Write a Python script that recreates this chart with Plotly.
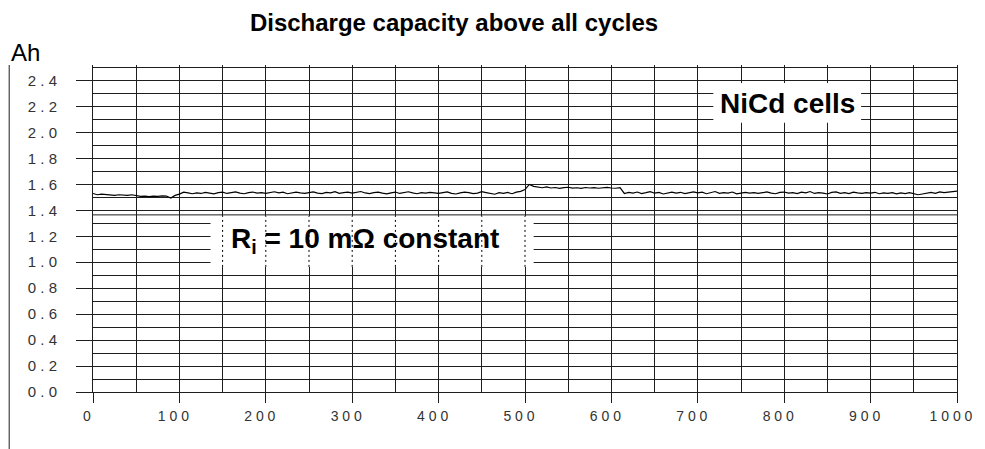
import plotly.graph_objects as go

# ---- data ----
cycles = list(range(0, 1001, 5))
capacity = [
    # 0-95
    1.530, 1.520, 1.525, 1.520, 1.520, 1.515, 1.520, 1.518, 1.515, 1.520,
    1.512, 1.508, 1.510, 1.505, 1.510, 1.508, 1.512, 1.510, 1.495, 1.515,
    # 100-195
    1.525, 1.540, 1.535, 1.528, 1.535, 1.530, 1.538, 1.532, 1.527, 1.536,
    1.540, 1.530, 1.535, 1.542, 1.533, 1.528, 1.537, 1.541, 1.532, 1.536,
    # 200-295
    1.530, 1.538, 1.543, 1.535, 1.540, 1.528, 1.536, 1.541, 1.534, 1.530,
    1.537, 1.542, 1.533, 1.529, 1.538, 1.535, 1.544, 1.531, 1.536, 1.540,
    # 300-395
    1.532, 1.538, 1.545, 1.534, 1.529, 1.536, 1.540, 1.533, 1.527, 1.535,
    1.541, 1.530, 1.536, 1.543, 1.534, 1.528, 1.537, 1.532, 1.539, 1.535,
    # 400-495
    1.530, 1.537, 1.542, 1.531, 1.526, 1.535, 1.540, 1.536, 1.529, 1.533,
    1.544, 1.537, 1.530, 1.524, 1.536, 1.531, 1.538, 1.528, 1.540, 1.546,
    # 500-595
    1.560, 1.600, 1.585, 1.578, 1.574, 1.580, 1.572, 1.576, 1.570, 1.575,
    1.578, 1.571, 1.574, 1.569, 1.576, 1.572, 1.575, 1.570, 1.573, 1.577,
    # 600-695
    1.572, 1.570, 1.575, 1.530, 1.538, 1.533, 1.541, 1.529, 1.536, 1.544,
    1.532, 1.538, 1.526, 1.535, 1.540, 1.533, 1.539, 1.529, 1.537, 1.542,
    # 700-795
    1.534, 1.540, 1.528, 1.536, 1.545, 1.531, 1.537, 1.533, 1.541, 1.527,
    1.535, 1.539, 1.532, 1.537, 1.530, 1.536, 1.542, 1.533, 1.528, 1.538,
    # 800-895
    1.541, 1.532, 1.536, 1.529, 1.540, 1.535, 1.545, 1.530, 1.537, 1.533,
    1.526, 1.538, 1.542, 1.531, 1.536, 1.529, 1.540, 1.534, 1.530, 1.537,
    # 900-995
    1.533, 1.539, 1.528, 1.535, 1.531, 1.537, 1.527, 1.534, 1.529, 1.536,
    1.530, 1.520, 1.526, 1.533, 1.539, 1.531, 1.542, 1.536, 1.540, 1.545,
    # 1000
    1.548,
]
x_ticks = list(range(0, 1001, 100))
y_ticks = [round(0.2 * i, 1) for i in range(13)]
x_tick_labels = [" ".join(str(v)) for v in x_ticks]
y_tick_labels = [" ".join(f"{v:.1f}") for v in y_ticks]

FONT = "Liberation Sans, Arial, sans-serif"
GRID = "#1e1e1e"

fig = go.Figure()
fig.add_trace(go.Scatter(x=cycles, y=capacity, mode="lines",
                         line=dict(color="black", width=1.2), showlegend=False,
                         hoverinfo="skip"))

fig.update_layout(
    width=985, height=449,
    margin=dict(l=93, r=26, t=65, b=57),
    paper_bgcolor="white", plot_bgcolor="white",
    font=dict(family=FONT, color="black"),
    title=dict(text="<b>Discharge capacity above all cycles</b>",
               x=454 / 985, xanchor="center", xref="container",
               y=1 - 23 / 449, yanchor="middle", yref="container",
               font=dict(size=24, family=FONT, color="black")),
    xaxis=dict(range=[0, 1000], tickvals=x_ticks, ticktext=x_tick_labels,
               ticks="outside", ticklen=10, tickcolor=GRID, tickwidth=1,
               showgrid=True, gridcolor=GRID, gridwidth=1,
               minor=dict(dtick=50, showgrid=True, gridcolor=GRID, gridwidth=1, ticks=""),
               showline=True, linecolor=GRID, linewidth=1,
               zeroline=False, ticklabelshift=-6, ticklabelstandoff=1,
               tickfont=dict(size=14, color="#333333", family=FONT)),
    yaxis=dict(range=[0, 2.52], tickvals=y_ticks, ticktext=y_tick_labels,
               ticks="outside", ticklen=16, tickcolor=GRID, tickwidth=1,
               showgrid=True, gridcolor=GRID, gridwidth=1,
               minor=dict(dtick=0.1, showgrid=True, gridcolor=GRID, gridwidth=1, ticks=""),
               showline=True, linecolor=GRID, linewidth=1, mirror=True,
               zeroline=False, ticklabelstandoff=16,
               tickfont=dict(size=15, color="#333333", family=FONT)),
)

shapes = []
# extra scan line near 1.365
shapes.append(dict(type="line", xref="x", yref="y", x0=0, x1=1000, y0=1.365, y1=1.365,
                   line=dict(color=GRID, width=1), layer="below"))
# white label boxes
shapes.append(dict(type="rect", xref="x", yref="y", x0=136, x1=510, y0=0.964, y1=1.357,
                   fillcolor="white", line=dict(width=0), layer="above"))
shapes.append(dict(type="rect", xref="x", yref="y", x0=718, x1=889, y0=2.074, y1=2.382,
                   fillcolor="white", line=dict(width=0), layer="above"))
# dotted gridlines through the Ri box
for gx in range(150, 501, 50):
    shapes.append(dict(type="line", xref="x", yref="y", x0=gx, x1=gx, y0=0.964, y1=1.357,
                       line=dict(color="black", width=1, dash="2px,3px"), layer="above"))
# far-left vertical rule
shapes.append(dict(type="line", xref="paper", yref="paper", x0=-0.097, x1=-0.097,
                   y0=-0.18, y1=1.0, line=dict(color=GRID, width=1)))
fig.update_layout(shapes=shapes)

fig.add_annotation(x=315, y=1.17, xref="x", yref="y", showarrow=False,
                   text="<b>R<sub>i</sub> = 10 mΩ constant</b>",
                   font=dict(size=28, family=FONT, color="black"))
fig.add_annotation(x=804, y=2.22, xref="x", yref="y", showarrow=False,
                   text="<b>NiCd cells</b>",
                   font=dict(size=28, family=FONT, color="black"))
fig.add_annotation(x=-0.0968, y=1.037, xref="paper", yref="paper", showarrow=False,
                   xanchor="left", yanchor="middle", text="Ah",
                   font=dict(size=24, family=FONT, color="black"))

fig.write_html("out.html")
